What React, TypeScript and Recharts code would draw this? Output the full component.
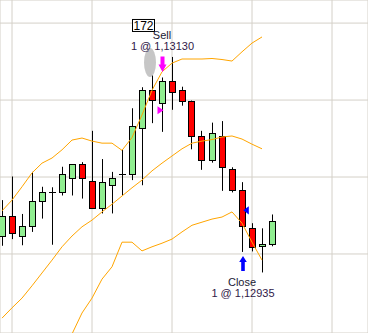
import React from "react";
import {
  ComposedChart,
  Bar,
  Line,
  XAxis,
  YAxis,
  CartesianGrid,
  ReferenceDot,
} from "recharts";

// OHLC per bar (bar index = position on the x axis)
const opens = [1.12885, 1.12925, 1.12885, 1.12904, 1.12954, 1.1297, 1.1297, 1.12999, 1.13025, 1.12993, 1.12939, 1.12984, 1.13005, 1.13005, 1.13095, 1.13169, 1.13144, 1.13188, 1.13169, 1.13149, 1.13079, 1.13034, 1.13079, 1.13016, 1.12974, 1.129, 1.12865, 1.12869];
const highs = [1.12955, 1.13001, 1.12928, 1.1301, 1.12981, 1.1298, 1.1302, 1.13025, 1.13029, 1.1309, 1.13035, 1.1301, 1.13053, 1.13134, 1.13175, 1.13229, 1.13194, 1.13234, 1.13176, 1.13149, 1.1309, 1.13106, 1.13109, 1.13019, 1.1299, 1.1291, 1.129, 1.12927];
const lows = [1.12866, 1.12879, 1.12867, 1.12893, 1.12919, 1.12868, 1.12964, 1.12964, 1.12958, 1.12939, 1.12929, 1.12929, 1.12964, 1.12994, 1.12984, 1.13105, 1.13088, 1.13131, 1.13139, 1.13054, 1.13014, 1.13028, 1.12973, 1.1297, 1.12854, 1.12855, 1.12814, 1.12865];
const closes = [1.12925, 1.1289, 1.12904, 1.12954, 1.1297, 1.1297, 1.13005, 1.13025, 1.12999, 1.12939, 1.1299, 1.12999, 1.13005, 1.13099, 1.13169, 1.1315, 1.13188, 1.13165, 1.13149, 1.13079, 1.13034, 1.13086, 1.13019, 1.12974, 1.12904, 1.12864, 1.12869, 1.12914];

// bollinger bands
const upperBand = [1.12934, 1.12955, 1.12981, 1.13008, 1.13027, 1.13037, 1.13053, 1.13072, 1.13076, 1.1307, 1.13066, 1.13066, 1.13052, 1.13077, 1.13121, 1.13169, 1.13205, 1.13222, 1.1323, 1.1323, 1.1323, 1.13231, 1.13229, 1.13226, 1.13244, 1.13261, 1.13273, null];
const middleBand = [1.12725, 1.12745, 1.12764, 1.12788, 1.12813, 1.12838, 1.12864, 1.12885, 1.12903, 1.12916, 1.12932, 1.12947, 1.12963, 1.12979, 1.12994, 1.13012, 1.13027, 1.13041, 1.13055, 1.13066, 1.1307, 1.13073, 1.13078, 1.1308, 1.13074, 1.13064, 1.13055, null];
const lowerBand = [null, null, null, null, null, null, null, 1.12694, 1.12735, 1.12764, 1.12801, 1.12825, 1.12873, 1.12873, 1.12856, 1.12864, 1.12871, 1.12879, 1.12893, 1.12906, 1.12912, 1.12918, 1.12922, 1.12932, 1.1291, 1.12873, 1.12838, null];

const priceTicks = [1.127, 1.1285, 1.13, 1.1315, 1.133];
const timeTicks = [1, 9, 17, 25, 33];

// trade
const tradeId = "172";
const sellBar = 16;
const sellPrice = 1.1313;
const sellText = ["Sell", "1 @ 1,13130"];
const closeBar = 24;
const closePrice = 1.12935;
const closeText = ["Close", "1 @ 1,12935"];

const data = opens.map((o, i) => ({
  i,
  open: o,
  high: highs[i],
  low: lows[i],
  close: closes[i],
  upper: upperBand[i],
  middle: middleBand[i],
  lower: lowerBand[i],
}));

const FONT = "'Liberation Sans', Arial, sans-serif";

function Candle(props: any) {
  const { x, y, width, height, payload } = props;
  if (x == null || y == null) return null;
  const { open, close, high, low } = payload;
  const h = Math.abs(height);
  const top = height < 0 ? y + height : y;
  const cx = Math.round(x + width / 2);
  const py = (v: number) => top + ((high - v) / (high - low)) * h;
  const bTop = Math.round(py(Math.max(open, close))) + 0.5;
  const bBot = Math.round(py(Math.min(open, close))) + 0.5;
  const up = close > open;
  return (
    <g>
      <line x1={cx + 0.5} x2={cx + 0.5} y1={top} y2={top + h} stroke="#000" strokeWidth={1} />
      {bBot - bTop < 1 ? (
        <line x1={cx - 3} x2={cx + 4} y1={bTop} y2={bTop} stroke="#000" strokeWidth={1} />
      ) : (
        <rect
          x={cx - 2.5}
          y={bTop}
          width={6}
          height={bBot - bTop}
          fill={up ? "#90ee90" : "#ff0000"}
          stroke="#000"
          strokeWidth={1}
        />
      )}
    </g>
  );
}

function SellArrow(props: any) {
  const { cx, cy } = props;
  const ax = cx + 0.5;
  return (
    <g>
      <ellipse cx={cx - 12} cy={cy - 15} rx={6} ry={14.5} fill="#c6c6c6" />
      <rect x={cx - 29.5} y={cy - 58} width={22} height={12} fill="#fff" stroke="#000" strokeWidth={1} />
      <text x={cx - 18.5} y={cy - 47.5} textAnchor="middle" fontFamily={FONT} fontSize={12} fill="#000">
        {tradeId}
      </text>
      <text x={cx} y={cy - 38} textAnchor="middle" fontFamily={FONT} fontSize={11} fill="#1a2035">
        {sellText[0]}
      </text>
      <text x={cx + 0.5} y={cy - 27} textAnchor="middle" fontFamily={FONT} fontSize={11} fill="#301848">
        {sellText[1]}
      </text>
      <polygon
        points={`${ax - 2},${cy - 21} ${ax + 2},${cy - 21} ${ax + 2},${cy - 13} ${ax + 4},${cy - 13} ${ax},${cy - 5.5} ${ax - 4},${cy - 13} ${ax - 2},${cy - 13}`}
        fill="#ff00ff"
      />
    </g>
  );
}

function SellFill(props: any) {
  const { cx, cy } = props;
  return <polygon points={`${cx - 4.5},${cy - 4} ${cx + 1.5},${cy} ${cx - 4.5},${cy + 4}`} fill="#ff00ff" />;
}

function CloseArrow(props: any) {
  const { cx, cy } = props;
  const ax = cx + 1;
  return (
    <g>
      <polygon
        points={`${ax},${cy + 4} ${ax + 3.8},${cy + 10} ${ax + 1.8},${cy + 10} ${ax + 1.8},${cy + 19} ${ax - 1.8},${cy + 19} ${ax - 1.8},${cy + 10} ${ax - 3.8},${cy + 10}`}
        fill="#0000ff"
      />
      <text x={cx} y={cy + 34} textAnchor="middle" fontFamily={FONT} fontSize={11} fill="#1a2035">
        {closeText[0]}
      </text>
      <text x={cx + 1} y={cy + 45} textAnchor="middle" fontFamily={FONT} fontSize={11} fill="#301848">
        {closeText[1]}
      </text>
    </g>
  );
}

function CloseFill(props: any) {
  const { cx, cy } = props;
  return <polygon points={`${cx + 1.3},${cy} ${cx + 6.8},${cy - 4.2} ${cx + 6.8},${cy + 4.2}`} fill="#0000ff" />;
}

export default function App() {
  return (
    <div style={{ position: "absolute", left: 0, top: 0, width: 368, height: 333, background: "#fff" }}>
      <ComposedChart width={368} height={333} data={data} margin={{ top: 0, right: 0, bottom: 0, left: 0 }}>
        <XAxis dataKey="i" type="number" domain={[-0.2, 36.6]} ticks={timeTicks} allowDataOverflow hide />
        <YAxis type="number" domain={[1.12696, 1.13345]} ticks={priceTicks} allowDataOverflow hide />
        <CartesianGrid stroke="#d4d0c8" strokeWidth={1} />
        <Line dataKey="upper" stroke="#ffa500" strokeWidth={1} dot={false} activeDot={false} isAnimationActive={false} />
        <Line dataKey="middle" stroke="#ffa500" strokeWidth={1} dot={false} activeDot={false} isAnimationActive={false} />
        <Line dataKey="lower" stroke="#ffa500" strokeWidth={1} dot={false} activeDot={false} isAnimationActive={false} />
        <Bar
          dataKey={(d: any) => [d.low, d.high]}
          barSize={7}
          shape={<Candle />}
          activeBar={false}
          isAnimationActive={false}
        />
        <ReferenceDot x={sellBar} y={highs[sellBar]} r={0} shape={(p: any) => <SellArrow {...p} />} />
        <ReferenceDot x={sellBar} y={sellPrice} r={0} shape={(p: any) => <SellFill {...p} />} />
        <ReferenceDot x={closeBar} y={lows[closeBar]} r={0} shape={(p: any) => <CloseArrow {...p} />} />
        <ReferenceDot x={closeBar} y={closePrice} r={0} shape={(p: any) => <CloseFill {...p} />} />
      </ComposedChart>
    </div>
  );
}
